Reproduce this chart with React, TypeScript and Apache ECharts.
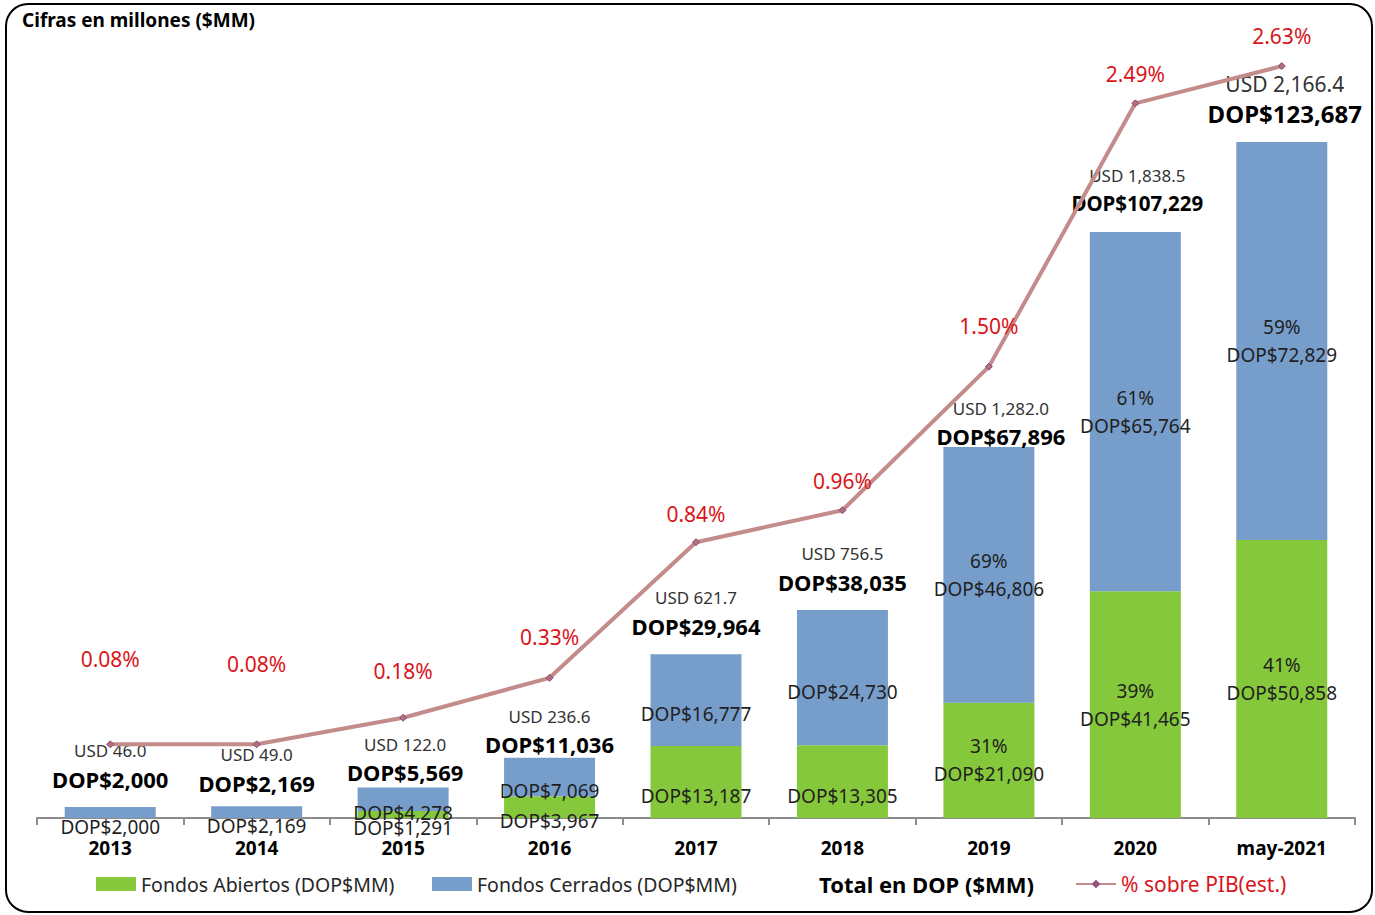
import React, { useEffect, useRef } from "react";
import * as echarts from "echarts";

const categories = ["2013", "2014", "2015", "2016", "2017", "2018", "2019", "2020", "may-2021"];
const abiertos = [0, 0, 1291, 3967, 13187, 13305, 21090, 41465, 50858];
const cerrados = [2000, 2169, 4278, 7069, 16777, 24730, 46806, 65764, 72829];
const totals = [2000, 2169, 5569, 11036, 29964, 38035, 67896, 107229, 123687];
const usd = ["46.0", "49.0", "122.0", "236.6", "621.7", "756.5", "1,282.0", "1,838.5", "2,166.4"];
const pctAbiertos = [null, null, null, null, null, null, "31%", "39%", "41%"];
const pctCerrados = [null, null, null, null, null, null, "69%", "61%", "59%"];
const pib = [0.08, 0.08, 0.18, 0.33, 0.84, 0.96, 1.5, 2.49, 2.63];

// label placement / sizing tweaks (pixels)
const pibLabelLift = [81, 76, 43, 37, 24, 25, 37, 25, 26];
const totalLabelDy = [0, 5, 13, 15, 0, 0, 18, 0, 0];
const totalLabelDx = [0, 0, 2, 0, 0, 0, 12, 2, 3];
const totalUsdSize = [17, 17, 17, 17, 17, 17, 17, 17, 21];
const totalDopSize = [22, 22, 22, 22, 22, 22, 22, 20.5, 24];

const FONT = "'Noto Sans', 'Open Sans', sans-serif";
const GREEN = "#86c83b";
const BLUE = "#779dcb";
const LINE = "#c48b8b";
const RED = "#d9151b";

const fmt = (v: number) => "DOP$" + v.toLocaleString("en-US");

export default function App() {
  const ref = useRef<HTMLDivElement>(null);
  useEffect(() => {
    if (!ref.current) return;
    const chart = echarts.init(ref.current, null, { renderer: "svg" });

    const segLabelRich = {
      p: { fontSize: 19, lineHeight: 28, color: "#1f1f1f", fontFamily: FONT },
      d: { fontSize: 19, lineHeight: 28, color: "#1f1f1f", fontFamily: FONT },
    };
    const segData = (vals: number[], pcts: (string | null)[]) =>
      vals.map((v, i) => ({
        value: v,
        label: {
          show: v > 0,
          offset: [0, pcts[i] ? 0 : 14],
          formatter: pcts[i] ? `{p|${pcts[i]}}\n{d|${fmt(v)}}` : `{d|${fmt(v)}}`,
        },
      }));

    const legendText = { fontSize: 19.5, color: "#262626", fontFamily: FONT, lineHeight: 28 };

    const option: any = {
      animation: false,
      backgroundColor: "#ffffff",
      textStyle: { fontFamily: FONT },
      grid: { left: 37, right: 20, top: 52.8, bottom: 97, containLabel: false },
      xAxis: {
        type: "category",
        data: categories,
        axisLine: { lineStyle: { color: "#8c8c8c", width: 2 } },
        axisTick: { show: true, length: 7, lineStyle: { color: "#8c8c8c", width: 2 } },
        axisLabel: { fontSize: 19, fontWeight: "bold", color: "#000", margin: 20, fontFamily: FONT },
      },
      yAxis: [
        { type: "value", min: 0, max: 140000, show: false, splitLine: { show: false } },
        { type: "value", min: -0.197, max: 2.68, show: false, splitLine: { show: false } },
      ],
      legend: [
        {
          left: 96, top: 870, padding: 0, itemWidth: 40, itemHeight: 14, selectedMode: false,
          data: [{ name: "Fondos Abiertos (DOP$MM)", icon: "rect" }],
          textStyle: legendText,
        },
        {
          left: 432, top: 870, padding: 0, itemWidth: 40, itemHeight: 14, selectedMode: false,
          data: [{ name: "Fondos Cerrados (DOP$MM)", icon: "rect" }],
          textStyle: legendText,
        },
        {
          left: 814, top: 870, padding: 0, itemWidth: 0, itemHeight: 14, selectedMode: false,
          data: [{ name: "Total en DOP ($MM)", icon: "none" }],
          textStyle: { fontSize: 22, fontWeight: "bold", color: "#000", fontFamily: FONT, lineHeight: 28 },
        },
        {
          left: 1075, top: 870, padding: 0, itemWidth: 40, itemHeight: 7, selectedMode: false,
          data: [{ name: "% sobre PIB(est.)" }],
          textStyle: { fontSize: 21, color: RED, fontFamily: FONT, lineHeight: 28 },
        },
      ],
      graphic: [
        {
          type: "rect",
          shape: { x: 6, y: 4, width: 1366, height: 908, r: 22 },
          style: { fill: "none", stroke: "#000", lineWidth: 2 },
          silent: true,
        },
        {
          type: "text",
          left: 22,
          top: 10,
          style: { text: "Cifras en millones ($MM)", font: `bold 19px ${FONT}`, fill: "#000" },
        },
      ],
      series: [
        {
          name: "Fondos Abiertos (DOP$MM)",
          type: "bar",
          stack: "t",
          barWidth: 91,
          itemStyle: { color: GREEN },
          label: { show: true, position: "inside", rich: segLabelRich },
          data: segData(abiertos, pctAbiertos),
          z: 2,
        },
        {
          name: "Fondos Cerrados (DOP$MM)",
          type: "bar",
          stack: "t",
          barWidth: 91,
          itemStyle: { color: BLUE },
          label: { show: true, position: "inside", rich: segLabelRich },
          data: segData(cerrados, pctCerrados),
          z: 2,
        },
        {
          name: "Total en DOP ($MM)",
          type: "line",
          data: totals.map((v, i) => ({
            value: v,
            label: {
              offset: [totalLabelDx[i], totalLabelDy[i]],
              rich: {
                u: { fontSize: totalUsdSize[i], lineHeight: i === 8 ? 31 : 28, color: "#333", fontFamily: FONT },
                d: { fontSize: totalDopSize[i], lineHeight: 28, fontWeight: "bold", color: "#000", fontFamily: FONT },
              },
            },
          })),
          lineStyle: { opacity: 0, width: 0 },
          itemStyle: { color: "rgba(0,0,0,0)", borderWidth: 0 },
          showSymbol: true,
          symbol: "circle",
          symbolSize: 1,
          label: {
            show: true,
            position: "top",
            distance: 14,
            formatter: (p: any) => `{u|USD ${usd[p.dataIndex]}}\n{d|${fmt(p.value)}}`,
          },
          z: 4,
        },
        {
          name: "% sobre PIB(est.)",
          type: "line",
          yAxisIndex: 1,
          data: pib.map((v, i) => ({
            value: v,
            label: { offset: [0, -(pibLabelLift[i] - 12)] },
          })),
          symbol: "diamond",
          symbolSize: 7,
          lineStyle: { color: LINE, width: 4 },
          itemStyle: { color: "#b07080", borderColor: "#8a4a78", borderWidth: 1 },
          label: {
            show: true,
            position: "top",
            distance: 0,
            fontSize: 21,
            color: RED,
            fontFamily: FONT,
            lineHeight: 24,
            formatter: (p: any) => p.value.toFixed(2) + "%",
          },
          z: 5,
        },
      ],
    };
    chart.setOption(option);
    return () => chart.dispose();
  }, []);

  return (
    <div
      ref={ref}
      style={{ position: "absolute", left: 0, top: 0, width: 1375, height: 915 }}
    />
  );
}
